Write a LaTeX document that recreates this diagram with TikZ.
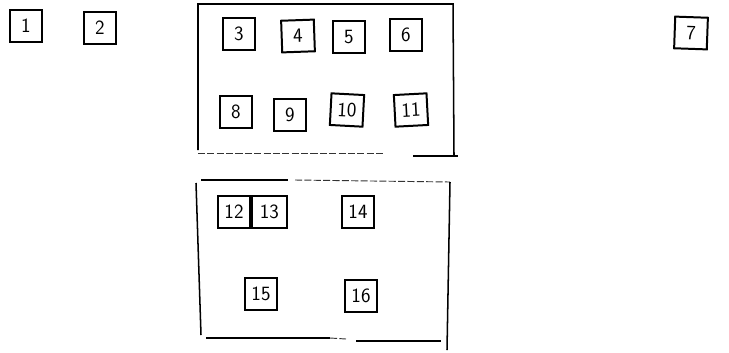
\documentclass[tikz,border=0pt]{standalone}
\usepackage{tikz}
\usetikzlibrary{positioning}
\tikzset{
  seat/.style={draw, line width=1.7pt, minimum width=0.98cm, minimum height=0.95cm,
    inner sep=0pt, font=\sffamily\LARGE},
  wall/.style={line width=1.3pt},
  faint/.style={line width=0.8pt, dash pattern=on 6pt off 2pt, gray!40!black},
}
\begin{document}
\begin{tikzpicture}[x=0.03cm,y=-0.03cm]
  \useasboundingbox (0,0) rectangle (729,352);
  % single seats
  \node[seat] (s1) at (26,26) {1};
  \node[seat] (s2) at (100,28) {2};
  \node[seat, rotate=-2] (s7) at (691,33) {7};
  % upper group
  \node[seat] (s3) at (239,34) {3};
  \node[seat, rotate=2] (s4) at (298,36) {4};
  \node[seat] (s5) at (349,37) {5};
  \node[seat] (s6) at (406,35) {6};
  \node[seat] (s8) at (236,112) {8};
  \node[seat] (s9) at (290,115) {9};
  \node[seat, rotate=-3] (s10) at (347,110) {10};
  \node[seat, rotate=3] (s11) at (411,110) {11};
  % lower group
  \node[seat, minimum width=0.95cm] (s12) at (234,212) {12};
  \node[seat, minimum width=1.05cm, right=0pt of s12] (s13) {13};
  \node[seat] (s14) at (358,212) {14};
  \node[seat] (s15) at (261,294) {15};
  \node[seat] (s16) at (361,296) {16};
  % frames
  \draw[wall] (198,150) -- (198,4) -- (453,4) -- (454,155);
  \draw[faint] (198,153) -- (385,153);
  \draw[wall] (413,156) -- (458,156);
  \draw[wall] (201,180) -- (288,180);
  \draw[faint] (295,180) -- (450,182);
  \draw[wall] (196,183) -- (201,335);
  \draw[wall] (450,182) -- (447,350);
  \draw[wall] (206,338) -- (330,338);
  \draw[faint] (330,338) -- (346,339);
  \draw[wall] (356,341) -- (441,341);
\end{tikzpicture}
\end{document}
